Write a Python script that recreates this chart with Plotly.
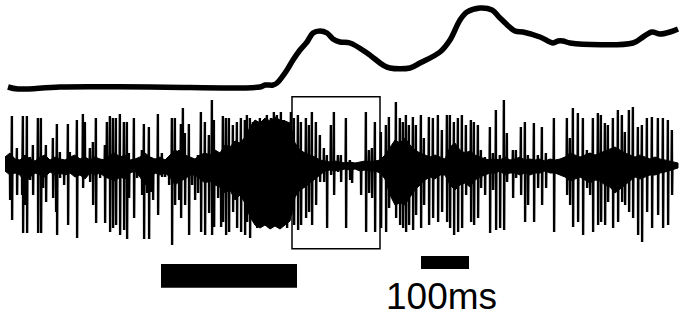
import plotly.graph_objects as go

# ---- data (x in samples, 480 samples per second) ----
FS = 480  # samples per second
SCALE_MS = 100

# upper trace (movement), arbitrary units
top_t = [8, 18, 60, 150, 260, 265, 273, 277, 287, 293, 300, 307, 313, 320, 327, 333, 340, 350, 367, 383,
         390, 410, 420, 440, 450, 460, 467, 480, 492, 500, 515, 523, 540, 553, 558, 563, 570, 633, 643, 652,
         660, 670, 678]
top_v = [0, -2, 0, 0, 0, 2, 2, 4, 17, 27, 37, 45, 54, 56, 54, 48, 45, 44, 34, 22,
         19, 19, 24, 35, 47, 67, 75, 79, 77, 69, 56, 55, 50, 44, 46, 46, 44, 44, 50, 55,
         53, 55, 58]

# spikes: sample index, positive peak, negative peak (uV)
spike_t = [10, 12, 17, 22, 23, 25, 27, 30, 33, 38, 41, 43, 46, 53, 56, 57, 60, 64, 68, 70,
           77, 80, 83, 85, 90, 93, 96, 100, 105, 107, 110, 113, 116, 120, 124, 127, 129, 134, 137, 142,
           144, 147, 149, 151, 153, 158, 162, 165, 169, 172, 175, 179, 181, 183, 185, 189, 192, 195, 198, 201,
           205, 209, 212, 214, 218, 221, 223, 226, 229, 233, 237, 241, 245, 247, 250, 253, 257, 260, 263, 267,
           271, 274, 277, 281, 284, 287, 291, 294, 298, 301, 306, 309, 312, 316, 320, 324, 327, 331, 334, 338,
           341, 346, 350, 352, 361, 366, 369, 372, 375, 381, 386, 389, 396, 400, 403, 406, 409, 413, 416, 421,
           424, 429, 433, 438, 442, 447, 450, 454, 458, 462, 466, 471, 474, 478, 481, 485, 490, 493, 496, 500,
           504, 507, 513, 516, 521, 525, 528, 534, 538, 542, 546, 554, 558, 567, 570, 573, 578, 583, 587, 590,
           593, 598, 601, 605, 608, 613, 618, 622, 625, 629, 633, 638, 642, 647, 652, 658, 663, 668, 672]
spike_up = [8, 49, 17, 5, 49, 8, 49, 8, 20, 47, 47, 7, 20, 27, 5, 41, 13, 5, 41, 13,
            45, 5, 51, 43, 17, 23, 47, 5, 20, 43, 49, 47, 47, 51, 43, 43, 12, 47, 0, 15,
            41, 5, 38, 8, 5, 51, 12, 5, 5, 47, 47, 15, 41, 57, 32, 41, 5, 5, 10, 53,
            43, 30, 65, 45, 10, 13, 49, 47, 47, 40, 43, 47, 45, 50, 47, 43, 37, 47, 42, 50,
            47, 53, 50, 53, 45, 40, 53, 47, 50, 43, 47, 40, 53, 43, 30, 17, 10, 40, 53, 10,
            10, 47, 5, 3, 0, 53, 15, 17, 43, 33, 40, 48, 63, 47, 43, 50, 40, 48, 40, 50,
            27, 48, 47, 50, 35, 50, 50, 43, 47, 50, 40, 45, 43, 40, 15, 8, 38, 12, 55, 10,
            65, 32, 15, 15, 38, 43, 10, 42, 10, 38, 12, 47, 5, 47, 27, 57, 52, 47, 15, 12,
            47, 52, 50, 42, 40, 47, 55, 50, 33, 55, 58, 38, 40, 47, 48, 47, 47, 45, 35]
spike_dn = [-35, -55, -30, -30, -68, -40, -68, -15, -30, -68, -68, -23, -37, -33, -47, -70, -13, -20, -60, -5,
            -73, -10, -23, -5, -17, -40, -58, -13, -58, -5, -67, -63, -60, -70, -65, -74, -33, -53, -13, -30,
            -74, -28, -74, -27, -35, -50, -12, -12, -20, -80, -40, -35, -53, -10, -40, -70, -20, -35, -28, -67,
            -70, -48, -70, -62, -33, -62, -57, -70, -67, -47, -63, -67, -70, -57, -73, -53, -63, -60, -57, -57,
            -60, -60, -50, -60, -10, -63, -50, -60, -65, -60, -53, -47, -60, -40, -17, -17, -63, -10, -30, -7,
            -17, -63, -15, -18, -30, -67, -28, -33, -67, -63, -67, -43, -53, -60, -63, -67, -60, -65, -50, -63,
            -40, -60, -53, -57, -47, -57, -63, -70, -67, -63, -30, -57, -60, -53, -23, -30, -68, -25, -65, -63,
            -65, -17, -33, -13, -30, -57, -40, -57, -23, -40, -23, -67, -8, -30, -40, -62, -57, -70, -23, -30,
            -67, -60, -57, -60, -37, -63, -57, -37, -40, -47, -53, -70, -77, -47, -63, -50, -63, -60, -30]

# background activity envelope: sample, upper, lower (uV)
env_t = [5, 10, 15, 20, 25, 30, 35, 40, 45, 50, 55, 60, 65, 70, 75, 80, 85, 90, 95, 100,
         105, 110, 115, 120, 125, 130, 135, 140, 145, 150, 155, 160, 165, 170, 175, 180, 185, 190, 195, 200,
         205, 210, 215, 220, 225, 230, 235, 240, 245, 250, 255, 260, 265, 270, 275, 280, 285, 290, 295, 300,
         305, 310, 315, 320, 325, 330, 335, 340, 345, 350, 355, 360, 365, 370, 375, 380, 385, 390, 395, 400,
         405, 410, 415, 420, 425, 430, 435, 440, 445, 450, 455, 460, 465, 470, 475, 480, 485, 490, 495, 500,
         505, 510, 515, 520, 525, 530, 535, 540, 545, 550, 555, 560, 565, 570, 575, 580, 585, 590, 595, 600,
         605, 610, 615, 620, 625, 630, 635, 640, 645, 650, 655, 660, 665, 670, 675, 678]
env_hi = [8, 12, 6, 5, 10, 6, 4, 8, 10, 5, 8, 6, 5, 8, 10, 6, 8, 5, 8, 6,
          5, 10, 12, 8, 10, 5, 6, 8, 12, 8, 6, 8, 5, 10, 15, 12, 10, 8, 6, 10,
          12, 10, 15, 12, 20, 18, 24, 22, 28, 38, 45, 42, 47, 44, 48, 45, 44, 42, 22, 15,
          12, 10, 8, 5, 4, 3, 4, 3, 2, 3, 2, 3, 4, 3, 4, 5, 10, 18, 25, 22,
          27, 20, 15, 12, 10, 8, 10, 8, 6, 18, 22, 15, 12, 14, 10, 8, 6, 5, 6, 5,
          8, 5, 6, 8, 5, 6, 5, 6, 4, 6, 5, 6, 8, 12, 10, 8, 10, 12, 10, 12,
          14, 16, 18, 15, 12, 10, 8, 10, 8, 6, 8, 6, 5, 4, 3, 2]
env_lo = [-6, -10, -8, -10, -18, -12, -8, -10, -12, -7, -10, -8, -10, -8, -12, -10, -14, -8, -10, -8,
          -12, -14, -16, -12, -14, -8, -6, -12, -20, -14, -8, -10, -8, -12, -20, -16, -14, -10, -10, -14,
          -18, -16, -20, -22, -28, -25, -35, -30, -38, -52, -60, -63, -60, -64, -61, -64, -60, -56, -32, -25,
          -22, -18, -14, -10, -6, -5, -6, -5, -4, -5, -4, -6, -5, -6, -6, -8, -14, -30, -40, -38,
          -40, -32, -25, -20, -15, -12, -14, -10, -10, -20, -25, -20, -18, -22, -15, -12, -10, -8, -8, -6,
          -10, -8, -8, -10, -8, -10, -8, -8, -6, -8, -8, -10, -12, -16, -14, -12, -15, -18, -15, -16,
          -20, -22, -28, -24, -20, -16, -12, -14, -12, -10, -10, -8, -7, -6, -4, -3]

# analysis window (box) and stimulus bar, in samples
window = [292, 380]
stimulus = [161, 297]
scale_start = 421

# ---- build spike trace path from the spike table ----
sx, sy = [], []
for t, u, d in zip(spike_t, spike_up, spike_dn):
    sx += [t - 0.45, t - 0.12, t + 0.12, t + 0.45]
    sy += [0, u, d, 0]

fig = go.Figure()
fig.add_trace(go.Scatter(x=top_t, y=top_v, mode="lines", line=dict(color="black", width=5.5),
                         line_shape="spline", xaxis="x", yaxis="y", hoverinfo="skip"))
fig.add_trace(go.Scatter(x=env_t + env_t[::-1], y=env_hi + env_lo[::-1], mode="lines", fill="toself",
                         fillcolor="black", line=dict(color="black", width=1), xaxis="x", yaxis="y2",
                         hoverinfo="skip"))
fig.add_trace(go.Scatter(x=sx, y=sy, mode="lines", line=dict(color="black", width=2.4),
                         xaxis="x", yaxis="y2", hoverinfo="skip"))

scale_len = SCALE_MS * FS / 1000.0
shapes = [
    dict(type="rect", xref="x", yref="y2", x0=window[0], x1=window[1], y0=-83.7, y1=68.3,
         line=dict(color="black", width=1.5), fillcolor="rgba(0,0,0,0)"),
    dict(type="rect", xref="x", yref="paper", x0=stimulus[0], x1=stimulus[1], y0=0.101, y1=0.175,
         line=dict(color="black", width=0), fillcolor="black"),
    dict(type="rect", xref="x", yref="paper", x0=scale_start, x1=scale_start + scale_len, y0=0.159, y1=0.2,
         line=dict(color="black", width=0), fillcolor="black"),
]

fig.update_layout(
    width=680, height=320, margin=dict(l=0, r=0, t=0, b=0),
    paper_bgcolor="white", plot_bgcolor="white", showlegend=False,
    hovermode=False,
    xaxis=dict(range=[0, 680], visible=False, fixedrange=True),
    yaxis=dict(domain=[0.703125, 1], range=[-8, 87], visible=False, fixedrange=True),
    yaxis2=dict(domain=[0.21875, 0.7], range=[-85, 69], visible=False, fixedrange=True),
    shapes=shapes,
    annotations=[dict(text="%dms" % SCALE_MS, xref="x", yref="paper", x=441.5, y=1 - 296 / 320,
                      xanchor="center", yanchor="middle", showarrow=False,
                      font=dict(family="Liberation Sans, Arial, sans-serif", size=37, color="black"))],
)

fig.write_html("out.html", config={"displayModeBar": False, "staticPlot": True},
               post_script="document.body.style.margin='0';")
